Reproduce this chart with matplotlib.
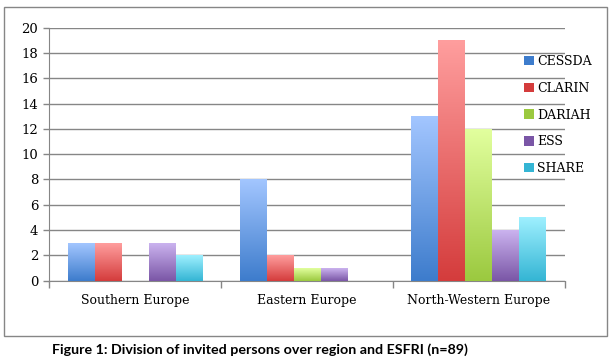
import matplotlib.pyplot as plt
import numpy as np
from matplotlib.colors import LinearSegmentedColormap
from matplotlib.patches import Rectangle

# categories and series
regions = ['Southern Europe', 'Eastern Europe', 'North-Western Europe']
series = ['CESSDA', 'CLARIN', 'DARIAH', 'ESS', 'SHARE']
cessda = [3, 8, 13]
clarin = [3, 2, 19]
dariah = [0, 1, 12]
ess = [3, 1, 4]
share = [2, 0, 5]
values = [cessda, clarin, dariah, ess, share]

# (top colour, bottom colour) of each gradient
grad = [('#a3c6ff', '#3d7ccc'),
        ('#ff9e9e', '#d43c3c'),
        ('#e2ff9e', '#9bc93f'),
        ('#cbb3ef', '#7a56a6'),
        ('#9ff0ff', '#34b5d4')]

fig = plt.figure(figsize=(6.12, 3.59), dpi=100)
ax = fig.add_axes([0.0805, 0.2184, 0.8425, 0.7044])

# outer frame round chart
fig.patches.append(Rectangle((0.0065, 0.064), 0.985, 0.9165, transform=fig.transFigure,
                             fill=False, edgecolor='#868686', lw=1.0, zorder=0))

x = np.arange(len(regions))
w = 0.157
grad_img = np.linspace(1, 0, 256).reshape(-1, 1)

for i, (name, vals) in enumerate(zip(series, values)):
    pos = x + (i - 2) * w
    bars = ax.bar(pos, vals, width=w, label=name, facecolor=grad[i][1], edgecolor='none', zorder=3)
    cmap = LinearSegmentedColormap.from_list(name, [grad[i][1], grad[i][0]])
    for b in bars:
        if b.get_height() <= 0:
            continue
        b.set_facecolor('none')
        x0, y0 = b.get_x(), b.get_y()
        im = ax.imshow(grad_img, cmap=cmap, aspect='auto', vmin=0, vmax=1,
                       extent=(x0, x0 + b.get_width(), y0, y0 + b.get_height()),
                       zorder=3, interpolation='bicubic')
        im.set_clip_path(b)

ax.set_xlim(-0.5, 2.5)
ax.set_ylim(0, 20)
ax.set_yticks(range(0, 21, 2))
ax.set_xticks(x)
ax.set_xticklabels(regions)
ax.set_xticks([-0.5, 0.5, 1.5, 2.5], minor=True)
ax.tick_params(axis='x', which='major', length=0, pad=10)
ax.tick_params(axis='x', which='minor', length=5, color='#868686', width=1)
ax.tick_params(axis='y', length=4, color='#868686', width=1, pad=4)
for lab in ax.get_xticklabels():
    lab.set_fontfamily('DejaVu Serif')
    lab.set_fontsize(9)
for lab in ax.get_yticklabels():
    lab.set_fontfamily('DejaVu Serif')
    lab.set_fontsize(9.5)

ax.grid(axis='y', color='#868686', lw=1, zorder=0)
ax.set_axisbelow(True)
for s in ['top', 'right']:
    ax.spines[s].set_visible(False)
ax.spines['left'].set_color('#868686')
ax.spines['bottom'].set_color('#868686')

handles = [Rectangle((0, 0), 1, 1, facecolor=g[1], edgecolor='none') for g in grad]
leg = fig.legend(handles, series, loc='upper left', bbox_to_anchor=(0.838, 0.878),
                 frameon=False, prop={'family': 'DejaVu Serif', 'size': 9},
                 handlelength=0.8, handleheight=0.8, handletextpad=0.25, labelspacing=1.1)

fig.text(0.085, 0.008, 'Figure 1: Division of invited persons over region and ESFRI (n=89)',
         fontfamily='Lato', fontweight='bold', fontsize=10.3, ha='left', va='bottom')

fig.savefig('out.png', dpi=100)
